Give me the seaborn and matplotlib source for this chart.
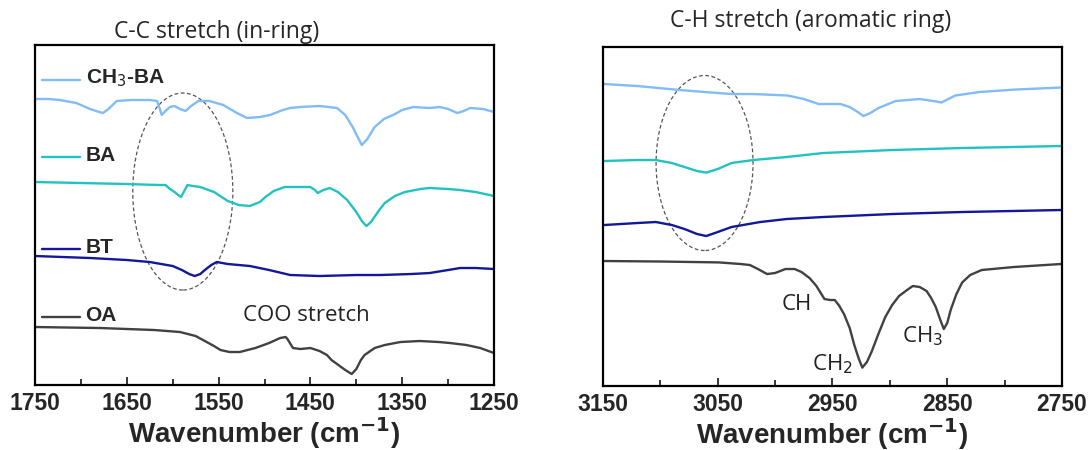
import matplotlib
matplotlib.use("Agg")
import matplotlib.pyplot as plt
from matplotlib.patches import Ellipse
from matplotlib.ticker import MultipleLocator
import seaborn as sns

# Left panel: 1750-1250 cm-1 (offset spectra, arbitrary units)
wn_l_ch3ba = [1750, 1735, 1723, 1705, 1690, 1680, 1676, 1670, 1661, 1645, 1625, 1617,
              1614, 1612, 1608, 1603, 1598, 1592, 1586, 1580, 1572, 1560, 1545, 1530,
              1519, 1505, 1494, 1480, 1472, 1461, 1440, 1430, 1421, 1412, 1404, 1398,
              1394, 1388, 1380, 1370, 1360, 1350, 1338, 1320, 1309, 1300, 1290, 1283,
              1276, 1262, 1250]
y_l_ch3ba = [286, 286, 285, 282, 276, 273, 272, 276, 284, 285, 285, 284,
             276, 270, 274, 278, 279, 276, 274, 279, 284, 284, 280, 272,
             267, 268, 270, 275, 277, 278, 279, 278, 277, 270, 258, 247,
             240, 246, 258, 266, 270, 275, 278, 277, 278, 276, 272, 274,
             277, 276, 273]

wn_l_ba = [1750, 1700, 1650, 1615, 1608, 1603, 1598, 1594, 1591, 1588, 1584, 1578,
           1570, 1555, 1540, 1528, 1516, 1505, 1499, 1490, 1478, 1460, 1450, 1445,
           1442, 1436, 1429, 1420, 1410, 1400, 1394, 1389, 1384, 1375, 1369, 1358,
           1347, 1330, 1320, 1300, 1287, 1270, 1250]
y_l_ba = [203, 202, 201, 200, 200, 196, 193, 190, 188, 193, 200, 199,
          198, 193, 184, 180, 179, 183, 188, 194, 198, 198, 198, 195,
          192, 195, 197, 193, 185, 173, 164, 159, 163, 175, 182, 189,
          193, 196, 197, 196, 195, 193, 189]

wn_l_bt = [1750, 1720, 1690, 1650, 1625, 1600, 1590, 1582, 1576, 1570, 1565, 1558,
           1552, 1540, 1516, 1495, 1472, 1440, 1400, 1374, 1340, 1320, 1300, 1287,
           1270, 1250]
y_l_bt = [129, 128, 127, 125, 123, 119, 115, 111, 109, 111, 115, 120,
          123, 121, 119, 115, 110, 109, 110, 110, 111, 112, 115, 117,
          117, 116]

wn_l_oa = [1750, 1679, 1620, 1592, 1575, 1565, 1555, 1548, 1538, 1527, 1510, 1495,
           1483, 1477, 1475, 1471, 1469, 1461, 1450, 1440, 1432, 1427, 1418, 1412,
           1405, 1400, 1395, 1391, 1380, 1369, 1352, 1331, 1310, 1298, 1280, 1265,
           1250]
y_l_oa = [58, 57, 55, 53, 49, 44, 39, 35, 33, 33, 37, 42,
          47, 48, 46, 40, 37, 36, 37, 34, 30, 25, 19, 15,
          11, 16, 25, 30, 37, 40, 43, 44, 43, 42, 40, 37,
          32]

# Right panel: 3150-2750 cm-1
wn_r_ch3ba = [3149, 3120, 3083, 3061, 3038, 3019, 2989, 2975, 2962, 2950, 2943, 2935,
              2928, 2923, 2917, 2910, 2895, 2874, 2862, 2855, 2849, 2843, 2822, 2792,
              2751]
y_r_ch3ba = [302, 300, 296, 294, 292, 292, 290.5, 287, 282, 282, 282, 279,
             274, 270, 273, 278, 285, 287, 285, 283.5, 287, 290.5, 294, 296.4,
             298.5]

wn_r_ba = [3149, 3120, 3104, 3090, 3079, 3068, 3060, 3050, 3038, 3019, 2990, 2958,
           2898, 2837, 2751]
y_r_ba = [225, 226, 226, 223, 219, 215, 213.4, 217, 223, 226, 229, 233,
          236, 238, 240]

wn_r_bt = [3149, 3120, 3104, 3090, 3079, 3068, 3060, 3050, 3038, 3013, 2990, 2958,
           2898, 2837, 2751]
y_r_bt = [161, 163, 164, 161, 157, 152, 150, 154, 159, 164, 167, 169,
          172, 174, 176]

wn_r_oa = [3149, 3100, 3049, 3030, 3022, 3015, 3007, 3000, 2991, 2983, 2977, 2970,
           2964, 2957, 2952, 2948, 2944, 2940, 2935, 2931, 2927, 2924, 2920, 2916,
           2910, 2904, 2898, 2892, 2885, 2880, 2874, 2868, 2864, 2860, 2856, 2853,
           2850, 2847, 2842, 2837, 2830, 2820, 2792, 2751]
y_r_oa = [125, 124.5, 123.6, 122, 121, 117, 112, 113, 117, 117, 114, 108,
          100, 87, 86, 86, 80, 72, 58, 41, 27, 18.4, 24, 34,
          52, 69, 81, 90, 96, 100, 99, 95, 88, 79, 66, 57,
          63, 76, 92, 103.5, 111, 116, 119, 122]

names = ["CH$_3$-BA", "BA", "BT", "OA"]
colors = ["#80bcf7", "#22c2c2", "#13179a", "#414141"]

sns.set_style("ticks")
plt.rcParams["font.family"] = ["Liberation Sans", "DejaVu Sans"]
soft = ["Open Sans", "DejaVu Sans"]

fig = plt.figure(figsize=(10.91, 4.5), dpi=100)
ax1 = fig.add_axes([0.0321, 0.1444, 0.4207, 0.7556])
ax2 = fig.add_axes([0.5527, 0.1422, 0.4207, 0.7533])

left = [(wn_l_ch3ba, y_l_ch3ba), (wn_l_ba, y_l_ba), (wn_l_bt, y_l_bt), (wn_l_oa, y_l_oa)]
right = [(wn_r_ch3ba, y_r_ch3ba), (wn_r_ba, y_r_ba), (wn_r_bt, y_r_bt), (wn_r_oa, y_r_oa)]

for (x, y), c in zip(left, colors):
    sns.lineplot(x=x, y=y, ax=ax1, color=c, lw=1.7, estimator=None)
for (x, y), c in zip(right, colors):
    sns.lineplot(x=x, y=y, ax=ax2, color=c, lw=1.7, estimator=None)

ax1.set_xlim(1750, 1250)
ax1.set_ylim(0, 340)
ax2.set_xlim(3150, 2750)
ax2.set_ylim(0, 339)

for ax in (ax1, ax2):
    ax.xaxis.set_major_locator(MultipleLocator(100, offset=50))
    ax.xaxis.set_minor_locator(MultipleLocator(50))
    ax.tick_params(axis="x", which="major", direction="in", length=6, width=1.3,
                   labelsize=16.5, pad=5)
    ax.tick_params(axis="x", which="minor", direction="in", length=4, width=1.3)
    ax.set_yticks([])
    for lab in ax.get_xticklabels():
        lab.set_fontweight("bold")
    for s in ax.spines.values():
        s.set_visible(True)
        s.set_linewidth(1.6)
        s.set_color("black")
    ax.set_xlabel("Wavenumber (cm$^{\\mathbf{-1}}$)", fontsize=20, fontweight="bold", labelpad=0)
    ax.set_ylabel("")

# sample labels with short line markers (left panel)
label_y = [0.897, 0.671, 0.40, 0.20]
for name, c, ly in zip(names, colors, label_y):
    ax1.plot([0.015, 0.098], [ly, ly], color=c, lw=1.7, transform=ax1.transAxes)
    ax1.text(0.110, ly + 0.005, name, transform=ax1.transAxes, fontsize=15,
             fontweight="bold", va="center", ha="left")

ax1.text(1454, 70, "COO stretch", fontsize=16, family=soft,
         ha="center", va="center", color="#222222")

ax2.text(2981, 82, "CH", fontsize=16, family=soft,
         ha="center", va="center", color="#222222")
ax2.text(2968, 22, "CH$_2$", fontsize=16, family=soft,
         ha="left", va="center", color="#222222")
ax2.text(2889, 50, "CH$_3$", fontsize=16, family=soft,
         ha="left", va="center", color="#222222")

# dashed ellipses
ax1.add_patch(Ellipse((1589, 193.5), 109, 197, fill=False, ls=(0, (3, 2)),
                      lw=0.9, color="#555555"))
ax2.add_patch(Ellipse((3061.5, 223), 84.5, 175, fill=False, ls=(0, (3, 2)),
                      lw=0.9, color="#555555"))

fig.text(0.199, 0.929, "C-C stretch (in-ring)", fontsize=16.5, ha="center", va="center",
         family=soft)
fig.text(0.743, 0.953, "C-H stretch (aromatic ring)", fontsize=16.5, ha="center", va="center",
         family=soft)

fig.savefig("out.png", dpi=100)
